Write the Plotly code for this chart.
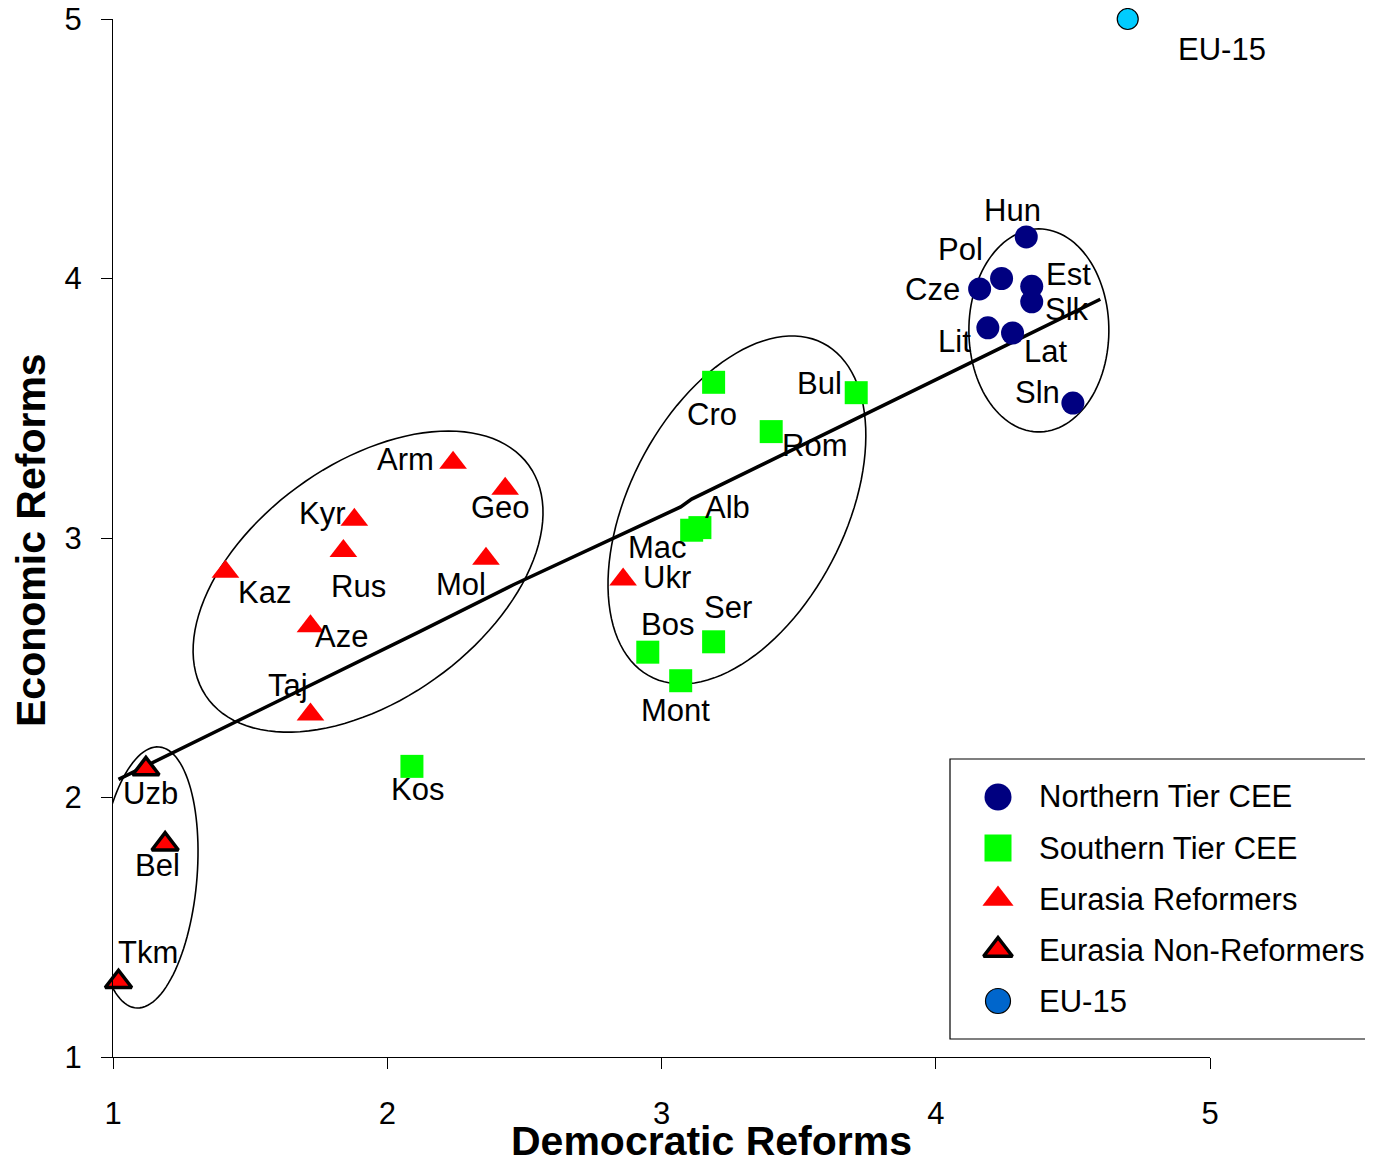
import numpy as np
import plotly.graph_objects as go

# --- data ---
north_names = ['Hun', 'Pol', 'Cze', 'Est', 'Slk', 'Lit', 'Lat', 'Sln']
north_dem = [4.33, 4.24, 4.16, 4.35, 4.35, 4.19, 4.28, 4.50]
north_eco = [4.16, 4.00, 3.96, 3.97, 3.91, 3.81, 3.79, 3.52]

south_names = ['Cro', 'Bul', 'Rom', 'Alb', 'Mac', 'Ser', 'Bos', 'Mont', 'Kos']
south_dem = [3.19, 3.71, 3.40, 3.14, 3.11, 3.19, 2.95, 3.07, 2.09]
south_eco = [3.60, 3.56, 3.41, 3.04, 3.03, 2.60, 2.56, 2.45, 2.12]

reform_names = ['Arm', 'Geo', 'Kyr', 'Rus', 'Mol', 'Kaz', 'Aze', 'Taj', 'Ukr']
reform_dem = [2.24, 2.43, 1.88, 1.84, 2.36, 1.41, 1.72, 1.72, 2.86]
reform_eco = [3.29, 3.19, 3.07, 2.95, 2.92, 2.87, 2.66, 2.32, 2.84]

nonref_names = ['Uzb', 'Bel', 'Tkm']
nonref_dem = [1.12, 1.19, 1.02]
nonref_eco = [2.11, 1.82, 1.29]

eu_names = ['EU-15']
eu_dem = [4.70]
eu_eco = [5.00]

# trend line through the groups
trend_dem = [1.02, 2.03, 2.12, 2.46, 3.07, 3.11, 4.60]
trend_eco = [2.07, 2.59, 2.64, 2.82, 3.12, 3.15, 3.92]

tick_vals = [1, 2, 3, 4, 5]
legend_names = ['Northern Tier CEE', 'Southern Tier CEE', 'Eurasia Reformers',
                'Eurasia Non-Reformers', 'EU-15']

# --- layout constants ---
W, H = 1373, 1160
OFF = 8                      # default page margin of the html body
ML, MR, MT, MB = 113, 163, 19, 103
plot_w, plot_h = W - ML - MR, H - MT - MB
PX_X = plot_w / 4.0   # pixels per unit on x
PX_Y = plot_h / 4.0   # pixels per unit on y
FONT = 'Liberation Sans, Arial, sans-serif'
LBL = 31

# label offsets from the point, in pixels (dx right, dy up)
label_off = {
    'Hun': (-14, 26), 'Pol': (-41, 29), 'Cze': (-47, -1), 'Est': (37, 12),
    'Slk': (35, -8), 'Lit': (-33, -14), 'Lat': (33, -18), 'Sln': (-35, 11),
    'Cro': (-2, -32), 'Bul': (-37, 9), 'Rom': (43, -14), 'Alb': (28, 20),
    'Mac': (-34, -17), 'Ser': (14, 34), 'Bos': (20, 28), 'Mont': (-5, -30),
    'Kos': (6, -23), 'Arm': (-48, 3), 'Geo': (-5, -19), 'Kyr': (-32, 6),
    'Rus': (15, -36), 'Mol': (-25, -26), 'Kaz': (39, -21), 'Aze': (31, -10),
    'Taj': (-22, 29), 'Ukr': (44, 2), 'Uzb': (5, -25), 'Bel': (-8, -21),
    'Tkm': (30, 29), 'EU-15': (94, -30),
}

# group outlines: centre (x, y), semi-axes in px, tilt in degrees
ellipses = [
    (4.376, 3.800, 101.5, 70, 90),
    (3.275, 3.108, 187.7, 108, 62.7),
    (1.930, 2.832, 198.4, 118, 35.9),
    (1.126, 1.692, 131.0, 49.3, 84.9),
]


def ellipse_path(cx, cy, a, b, ang, n=120):
    t = np.linspace(0, 2 * np.pi, n)
    th = np.radians(ang)
    dx = a * np.cos(t) * np.cos(th) - b * np.sin(t) * np.sin(th)
    dy = a * np.cos(t) * np.sin(th) + b * np.sin(t) * np.cos(th)
    xs = cx + dx / PX_X
    ys = cy + dy / PX_Y
    return 'M ' + ' L '.join(f'{x:.4f},{y:.4f}' for x, y in zip(xs, ys)) + ' Z'


styles = [
    dict(symbol='circle', color='#000080', line=dict(width=0)),
    dict(symbol='square', color='#00FF00', line=dict(width=0)),
    dict(symbol='triangle-up', color='#FF0000', line=dict(width=0)),
    dict(symbol='triangle-up', color='#FF0000', line=dict(width=3.5, color='black')),
    dict(symbol='circle', color='#00CCFF', line=dict(width=1.2, color='black')),
]
sizes = [23, 23, 24, 23, 21]
groups = [
    (north_names, north_dem, north_eco),
    (south_names, south_dem, south_eco),
    (reform_names, reform_dem, reform_eco),
    (nonref_names, nonref_dem, nonref_eco),
    (eu_names, eu_dem, eu_eco),
]

fig = go.Figure()

fig.add_trace(go.Scatter(x=trend_dem, y=trend_eco, mode='lines',
                         line=dict(color='black', width=3.5), showlegend=False,
                         hoverinfo='skip'))

annotations = []
for (names, xs, ys), st, sz, lname in zip(groups, styles, sizes, legend_names):
    fig.add_trace(go.Scatter(x=xs, y=ys, mode='markers', name=lname, text=names,
                             marker=dict(size=sz, **st), showlegend=False,
                             cliponaxis=False))
    for n, x, y in zip(names, xs, ys):
        dx, dy = label_off[n]
        annotations.append(dict(x=x, y=y, xref='x', yref='y', text=n, showarrow=False,
                                xshift=dx, yshift=dy, xanchor='center', yanchor='middle',
                                font=dict(family=FONT, size=LBL, color='black')))

# hand-drawn legend box (markers on an overlay axis in paper units)
leg_left, leg_top, leg_bottom = 950, 759, 1039
mark_x = (998 - ML) / plot_w
text_x = (1037 - ML) / plot_w
leg_y = [(H - MB - (797 + 51 * i)) / plot_h for i in range(len(legend_names))]
leg_colors = ['#000080', '#00FF00', '#FF0000', '#FF0000', '#0066CC']
for i, (st, lname) in enumerate(zip(styles, legend_names)):
    mk = dict(st)
    mk['color'] = leg_colors[i]
    fig.add_trace(go.Scatter(x=[mark_x], y=[leg_y[i]], xaxis='x2', yaxis='y2',
                             mode='markers', marker=dict(size=27 if i < 3 else 25, **mk),
                             showlegend=False, hoverinfo='skip'))
    annotations.append(dict(x=text_x, y=leg_y[i], xref='paper', yref='paper', text=lname,
                            showarrow=False, xanchor='left', yanchor='middle',
                            font=dict(family=FONT, size=LBL, color='black')))

shapes = [dict(type='path', path=ellipse_path(*e), xref='x', yref='y',
               line=dict(color='black', width=1.6), layer='below') for e in ellipses]
shapes.append(dict(type='rect', xref='paper', yref='paper',
                   x0=(leg_left - ML) / plot_w, x1=1.5,
                   y0=(H - MB - leg_bottom) / plot_h, y1=(H - MB - leg_top) / plot_h,
                   line=dict(color='black', width=1.2), fillcolor='rgba(0,0,0,0)'))

# axis titles
annotations.append(dict(x=(711 - ML) / plot_w, y=(H - MB - 1141) / plot_h, xref='paper',
                        yref='paper', text='<b>Democratic Reforms</b>', showarrow=False,
                        xanchor='center', yanchor='middle',
                        font=dict(family=FONT, size=41, color='black')))
annotations.append(dict(x=(31 - ML) / plot_w, y=(H - MB - 540) / plot_h, xref='paper',
                        yref='paper', text='<b>Economic Reforms</b>', showarrow=False,
                        textangle=-90, xanchor='center', yanchor='middle',
                        font=dict(family=FONT, size=41, color='black')))

axis_common = dict(showgrid=False, zeroline=False, showline=True, linecolor='black',
                   linewidth=1, ticks='outside', ticklen=11, tickcolor='black',
                   tickwidth=1, tickvals=tick_vals, range=[1, 5], automargin=False,
                   ticklabeloverflow='allow',
                   tickfont=dict(family=FONT, size=31, color='black'))

fig.update_layout(
    width=W - OFF, height=H - OFF,
    margin=dict(l=ML - OFF, r=MR, t=MT - OFF, b=MB),
    plot_bgcolor='white', paper_bgcolor='white',
    xaxis=dict(axis_common, ticklabelstandoff=18),
    yaxis=dict(axis_common, ticklabelstandoff=13),
    xaxis2=dict(overlaying='x', range=[0, 1], visible=False),
    yaxis2=dict(overlaying='y', range=[0, 1], visible=False),
    shapes=shapes,
    annotations=annotations,
    showlegend=False,
)

fig.write_html("out.html")
